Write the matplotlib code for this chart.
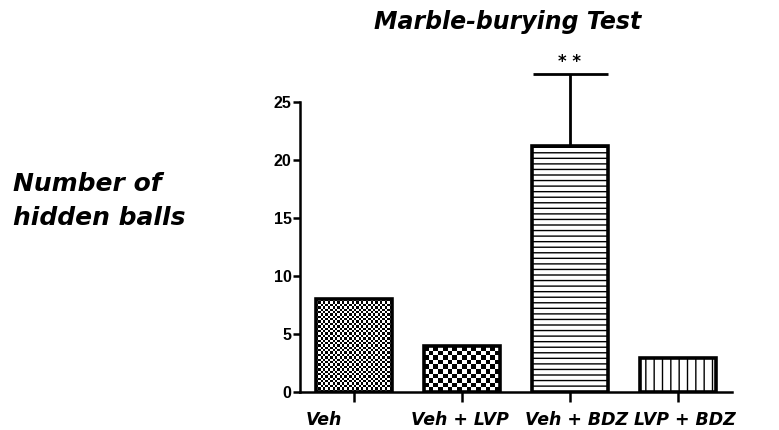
import numpy as np
import matplotlib
matplotlib.use('Agg')
import matplotlib.pyplot as plt
from matplotlib.transforms import ScaledTranslation

groups = ['Veh', 'Veh + LVP', 'Veh + BDZ', 'LVP + BDZ']
means = [8.0, 3.95, 21.2, 2.9]
errors = [0.0, 0.0, 6.2, 0.0]
patterns = ['fine', 'coarse', '---', '||']
signif = ['', '', '* *', '']
y_ticks = [0, 5, 10, 15, 20, 25]
label_shift = [-0.30, -0.02, 0.07, 0.07]   # inches, as in the original layout

matplotlib.rcParams['hatch.linewidth'] = 1.0
heavy = dict(family='DejaVu Sans', weight='bold', style='italic')

fig = plt.figure(figsize=(7.79, 4.3), dpi=100)
ax = fig.add_axes([300 / 779, 38 / 430, 432 / 779, 324.8 / 430])

x = np.arange(len(groups))
bars = ax.bar(x, means, width=0.7, color='white', edgecolor='black',
              linewidth=2.6, zorder=3)

ax.set_xlim(-0.5, 3.5)
ax.set_ylim(0, 28)

# checkerboards for the first two bars, line hatches for the rest
for bar, pat in zip(bars, patterns):
    if pat in ('fine', 'coarse'):
        bar.set_facecolor('none')
        cell = 2.4 if pat == 'fine' else 4.8
        bx, by = bar.get_x(), bar.get_y()
        bw, bh = bar.get_width(), bar.get_height()
        p0 = ax.transData.transform((bx, by))
        p1 = ax.transData.transform((bx + bw, by + bh))
        nx = max(1, int(round((p1[0] - p0[0]) / cell)))
        ny = max(1, int(round((p1[1] - p0[1]) / cell)))
        board = (np.add.outer(np.arange(ny), np.arange(nx)) % 2).astype(float)
        im = ax.imshow(board, cmap='gray', interpolation='nearest',
                       extent=(bx, bx + bw, by, by + bh), aspect='auto',
                       zorder=2, vmin=0, vmax=1)
        im.set_clip_path(bar)
    else:
        bar.set_hatch(pat)

ax.set_xlim(-0.5, 3.5)
ax.set_ylim(0, 28)

for xi, m, e, s in zip(x, means, errors, signif):
    if e > 0:
        ax.errorbar(xi, m, yerr=[[0], [e]], fmt='none', ecolor='black',
                    elinewidth=2, capsize=27, capthick=2, zorder=4)
    if s:
        ax.annotate(s, (xi, m + e), xytext=(0, 2), textcoords='offset points',
                    ha='center', va='bottom', fontsize=12, fontweight='bold')

ax.spines['top'].set_visible(False)
ax.spines['right'].set_visible(False)
ax.spines['left'].set_linewidth(1.8)
ax.spines['bottom'].set_linewidth(1.8)
ax.spines['left'].set_bounds(0, 25)

ax.set_yticks(y_ticks)
ax.set_yticklabels([str(t) for t in y_ticks], fontsize=11.5,
                   family='Liberation Sans', fontweight='bold')
ax.tick_params(axis='y', direction='out', length=5, width=1.8, pad=1)
ax.set_xticks(x)
ax.set_xticklabels(groups, fontsize=12.5, **heavy)
ax.tick_params(axis='x', direction='out', length=7, width=1.8, pad=6.5)
for lab, dx in zip(ax.get_xticklabels(), label_shift):
    lab.set_transform(lab.get_transform() +
                      ScaledTranslation(dx, 0, fig.dpi_scale_trans))

fig.text(508 / 779, 1 - 22 / 430, 'Marble-burying Test', ha='center',
         va='center', fontsize=17, **heavy)
fig.text(13 / 779, 1 - 201 / 430, 'Number of\nhidden balls', ha='left',
         va='center', fontsize=18, linespacing=1.5, **heavy)

fig.savefig('out.png', dpi=100)
